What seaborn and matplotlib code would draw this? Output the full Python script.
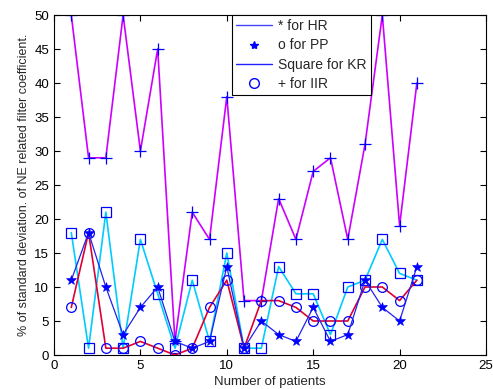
import matplotlib
matplotlib.use("Agg")
import matplotlib.pyplot as plt
import seaborn as sns
import pandas as pd
from matplotlib.lines import Line2D

patients = list(range(1, 22))
hr = [50, 29, 29, 50, 30, 45, 2, 21, 17, 38, 8, 8, 23, 17, 27, 29, 17, 31, 50, 19, 40]
pp = [11, 18, 10, 3, 7, 10, 2, 1, 2, 13, 1, 5, 3, 2, 7, 2, 3, 11, 7, 5, 13]
kr = [18, 1, 21, 1, 17, 9, 1, 11, 2, 15, 1, 1, 13, 9, 9, 3, 10, 11, 17, 12, 11]
iir = [7, 18, 1, 1, 2, 1, 0, 1, 7, 11, 1, 8, 8, 7, 5, 5, 5, 10, 10, 8, 11]
legend_labels = ["* for HR", "o for PP", "Square for KR", "+ for IIR"]

sns.set_style("ticks")
plt.rcParams['font.family'] = ['Liberation Sans', 'DejaVu Sans']

df = pd.DataFrame({"x": patients, "hr": hr, "pp": pp, "kr": kr, "iir": iir})

fig = plt.figure(figsize=(4.93, 3.89), dpi=100)
ax = fig.add_axes([54/493, 1 - 355/389, (486-54)/493, (355-15)/389])

mblue = "#0000ff"
sns.lineplot(data=df, x="x", y="hr", ax=ax, color="#cc00ff", lw=1.2,
             marker="+", markersize=9, markeredgecolor=mblue, markeredgewidth=0.9)
sns.lineplot(data=df, x="x", y="kr", ax=ax, color="#00ccff", lw=1.2,
             marker="s", markersize=7, markerfacecolor="none", markeredgecolor=mblue, markeredgewidth=0.9)
sns.lineplot(data=df, x="x", y="iir", ax=ax, color="#dd0033", lw=1.2,
             marker="o", markersize=7, markerfacecolor="none", markeredgecolor=mblue, markeredgewidth=0.9)
sns.lineplot(data=df, x="x", y="pp", ax=ax, color="#2222ee", lw=0.9,
             marker="*", markersize=7, markerfacecolor=mblue, markeredgecolor=mblue, markeredgewidth=0.4)

ax.set_xlim(0, 25)
ax.set_ylim(0, 50)
ax.set_xticks(range(0, 26, 5))
ax.set_yticks(range(0, 51, 5))
ax.tick_params(direction="in", top=True, right=True, labelsize=9.5, length=4, width=0.8, colors="black")
for s in ax.spines.values():
    s.set_visible(True)
    s.set_color("black")
    s.set_linewidth(0.8)
ax.set_xlabel("Number of patients", fontsize=9.5, labelpad=3)
ax.set_ylabel("% of standard deviation. of NE related filter coefficient.", fontsize=9, labelpad=3)

handles = [
    Line2D([], [], color="#4444ff", lw=1.0),
    Line2D([], [], color=mblue, lw=0, marker="*", markersize=6),
    Line2D([], [], color="#2222ff", lw=1.0),
    Line2D([], [], color=mblue, lw=0, marker="o", markersize=7, markerfacecolor="none"),
]
leg = ax.legend(handles, legend_labels, loc="upper left", bbox_to_anchor=((232-54)/432, 1.0),
                fontsize=10, frameon=True, fancybox=False, framealpha=1, edgecolor="black",
                borderpad=0.3, labelspacing=0.38, handlelength=2.6, handletextpad=0.4, borderaxespad=0)
leg.get_frame().set_linewidth(0.8)

fig.savefig("out.png", dpi=100)
